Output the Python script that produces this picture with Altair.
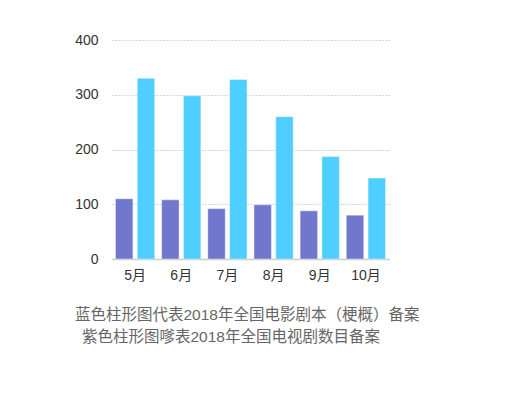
import altair as alt
import pandas as pd

months = ["5月", "6月", "7月", "8月", "9月", "10月"]
tv_series = [110, 108, 92, 99, 88, 80]        # purple
film_scripts = [330, 298, 328, 260, 187, 148]  # cyan
series_names = ["电视剧", "电影剧本"]
series_colors = ["#7177CD", "#4FCFFF"]
caption_line1 = "蓝色柱形图代表2018年全国电影剧本（梗概）备案"
caption_line2 = "紫色柱形图嗲表2018年全国电视剧数目备案"
y_ticks = [0, 100, 200, 300, 400]

rows = []
for i, m in enumerate(months):
    rows.append({"month": m, "series": series_names[0], "value": tv_series[i]})
    rows.append({"month": m, "series": series_names[1], "value": film_scripts[i]})
df = pd.DataFrame(rows)

FONT = "Liberation Sans, Noto Sans CJK SC"

bars = alt.Chart(df).mark_bar(stroke="white", strokeWidth=1, strokeOpacity=0.4).encode(
    x=alt.X("month:N", sort=months, title=None,
            scale=alt.Scale(paddingInner=0.15, paddingOuter=0.075),
            axis=alt.Axis(labelAngle=0, ticks=False, labelPadding=9, labelFontSize=14,
                          labelColor="#333333", labelFont=FONT,
                          domainColor="#cccccc", domainWidth=1.5, grid=False)),
    xOffset=alt.XOffset("series:N", sort=series_names,
                        scale=alt.Scale(paddingInner=0.2, paddingOuter=0)),
    y=alt.Y("value:Q", title=None,
            scale=alt.Scale(domain=[0, 400]),
            axis=alt.Axis(values=y_ticks, ticks=False, domain=False, labelPadding=14,
                          labelFontSize=14, labelColor="#333333", labelFont=FONT,
                          grid=True, gridColor="#b0b0b0", gridDash=[1, 2], gridWidth=1)),
    color=alt.Color("series:N", sort=series_names,
                    scale=alt.Scale(domain=series_names, range=series_colors), legend=None),
)

cap_df = pd.DataFrame({"t": [caption_line1, caption_line2],
                       "x": [-37, -30], "y": [275, 297]})
caption = alt.Chart(cap_df).mark_text(align="left", baseline="middle", fontSize=15.5,
                                      font=FONT, color="#666666").encode(
    x=alt.X("x:Q", scale=None), y=alt.Y("y:Q", scale=None), text="t:N")

chart = alt.layer(bars, caption).properties(
    width=277, height=219,
    autosize=alt.AutoSizeParams(type="none"),
    padding={"left": 104, "top": 32, "right": 100, "bottom": 100},
).configure_view(stroke=None)

chart.save("out.html", embed_options={"renderer": "svg", "actions": False})
